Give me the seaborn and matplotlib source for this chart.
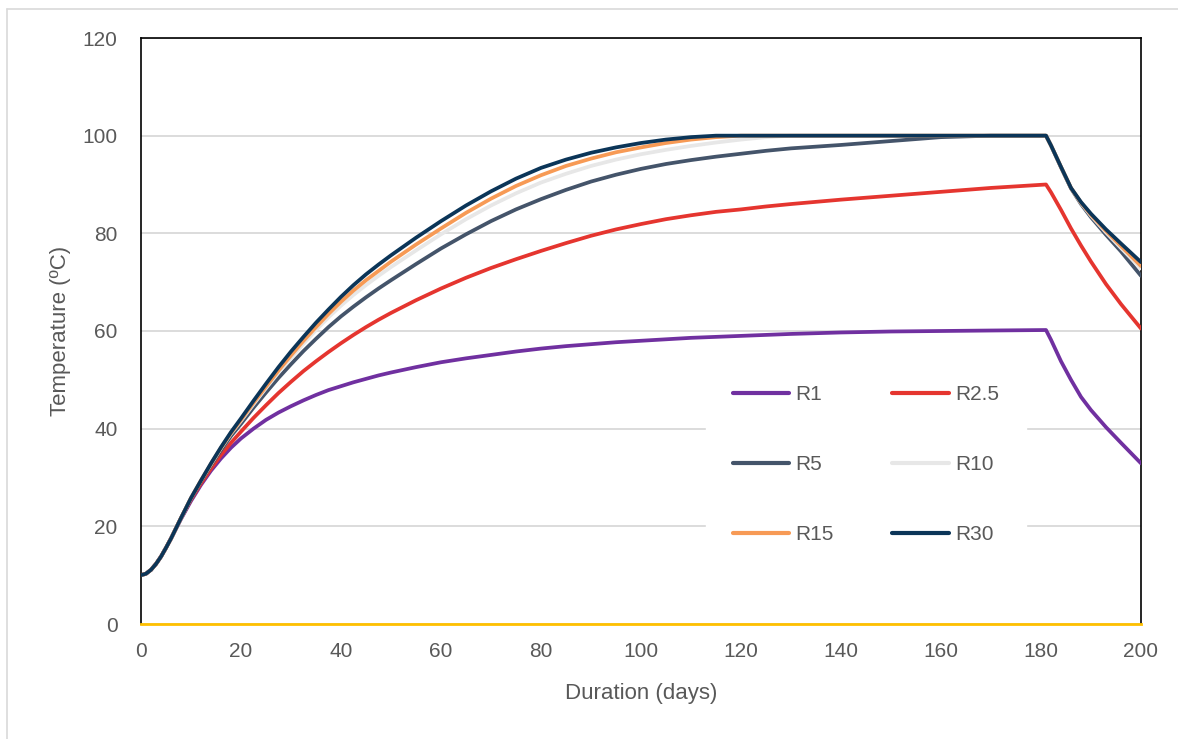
import matplotlib
matplotlib.use("Agg")
import matplotlib.pyplot as plt
import matplotlib.lines as mlines
import seaborn as sns
import pandas as pd

# read-off points (Excel series were daily)
days = [0, 1, 2, 3, 4, 5, 6, 7, 8,
        10, 12, 14, 16, 18, 20,
        22.5, 25, 27.5, 30, 32.5, 35, 37.5, 40, 42.5, 45, 47.5, 50,
        55, 60, 65, 70, 75, 80, 85, 90, 95, 100, 105, 110, 115, 120, 125, 130,
        140, 150, 160, 170, 181,
        182, 184, 186, 188, 190, 193, 196, 200]

start = [10, 10.3, 11.1, 12.3, 13.8, 15.6, 17.5, 19.6, 21.7]

r1 = [10, 10.3, 11.1, 12.3, 13.8, 15.6, 17.5, 19.5, 21.5,
      25.2, 28.5, 31.4, 33.9, 36.1, 38,
      40, 41.8, 43.3, 44.6, 45.8, 46.9, 47.9, 48.7, 49.5, 50.2, 50.9, 51.5,
      52.6, 53.6, 54.4, 55.1, 55.8, 56.4, 56.9, 57.3, 57.7, 58, 58.3, 58.6, 58.8, 59, 59.2, 59.4,
      59.7, 59.9, 60, 60.1, 60.2,
      58.2, 53.8, 50, 46.5, 43.8, 40.3, 37.1, 32.9]
r2_5 = start + [
    25.5, 28.8, 31.8, 34.6, 37.1, 39.4,
    42.2, 44.8, 47.3, 49.6, 51.8, 53.8, 55.7, 57.5, 59.2, 60.8, 62.3, 63.7,
    66.3, 68.7, 70.9, 72.9, 74.7, 76.4, 78, 79.5, 80.8, 81.9, 82.9, 83.7, 84.4, 84.9, 85.5, 86,
    86.9, 87.7, 88.5, 89.3, 90,
    88.4, 84.8, 81, 77.5, 74.2, 69.6, 65.5, 60.5]
r5 = start + [
    25.7, 29.2, 32.5, 35.6, 38.5, 41,
    44.3, 47.4, 50.4, 53.2, 55.9, 58.4, 60.8, 63, 65, 66.9, 68.7, 70.4,
    73.7, 76.9, 79.8, 82.5, 84.9, 87, 88.9, 90.6, 92, 93.2, 94.2, 95, 95.7, 96.3, 96.9, 97.4,
    98.1, 98.9, 99.7, 100, 100,
    98, 93.5, 89.2, 86, 83.3, 79.7, 76.3, 71.3]
r10 = start + [
    25.8, 29.4, 32.7, 36, 39, 41.6,
    45, 48.3, 51.5, 54.5, 57.4, 60.2, 62.8, 65.2, 67.4, 69.4, 71.3, 73.1,
    76.5, 79.8, 82.9, 85.7, 88.2, 90.4, 92.2, 93.8, 95.1, 96.2, 97.1, 97.9, 98.6, 99.2, 99.7, 100,
    100, 100, 100, 100, 100,
    98, 93.6, 89.3, 86.2, 83.6, 80.2, 77, 72.8]
r15 = start + [
    25.8, 29.4, 32.8, 36.1, 39.1, 41.8,
    45.3, 48.6, 51.9, 55, 58, 60.8, 63.5, 66, 68.3, 70.4, 72.3, 74.2,
    77.7, 81, 84.2, 87.1, 89.7, 91.9, 93.8, 95.3, 96.6, 97.6, 98.5, 99.2, 99.7, 100, 100, 100,
    100, 100, 100, 100, 100,
    98, 93.6, 89.3, 86.3, 83.8, 80.5, 77.4, 73.3]
r30 = start + [
    25.8, 29.4, 32.9, 36.2, 39.3, 42.1,
    45.7, 49.2, 52.6, 55.8, 58.8, 61.7, 64.4, 67, 69.4, 71.6, 73.6, 75.5,
    79.1, 82.5, 85.7, 88.6, 91.2, 93.4, 95.1, 96.5, 97.6, 98.5, 99.2, 99.7, 100, 100, 100, 100,
    100, 100, 100, 100, 100,
    98, 93.6, 89.3, 86.4, 84, 80.8, 77.9, 74.1]

series_names = ["R1", "R2.5", "R5", "R10", "R15", "R30"]
colors = {"R1": "#7030A0", "R2.5": "#E5352F", "R5": "#44546A",
          "R10": "#E7E7E7", "R15": "#F79A55", "R30": "#0B3558"}

frames = []
for name, vals in zip(series_names, [r1, r2_5, r5, r10, r15, r30]):
    frames.append(pd.DataFrame({"Duration": days, "Temperature": vals, "Series": name}))
df = pd.concat(frames, ignore_index=True)

sns.set_style("white")
plt.rcParams["font.family"] = ["Liberation Sans", "DejaVu Sans"]
grey = "#595959"

fig = plt.figure(figsize=(11.78, 7.39), dpi=100)
ax = fig.add_axes([141 / 1178, 1 - 624 / 739, 1000 / 1178, 586 / 739])

sns.lineplot(data=df, x="Duration", y="Temperature", hue="Series", hue_order=series_names,
             palette=colors, linewidth=2.7, ax=ax, legend=False, zorder=3)

ax.set_xlim(0, 200)
ax.set_ylim(0, 120)
ax.set_xticks(range(0, 201, 20))
ax.set_yticks(range(0, 121, 20))
ax.yaxis.grid(True, color="#D9D9D9", linewidth=1.3, zorder=0)
ax.xaxis.grid(False)
ax.tick_params(axis="both", length=0, labelsize=15, labelcolor=grey)
ax.tick_params(axis="y", pad=17)
ax.tick_params(axis="x", pad=13)
ax.set_xlabel("Duration (days)", fontsize=16, color=grey, labelpad=16)
ax.set_ylabel("Temperature (ºC)", fontsize=16, color=grey, labelpad=8)

for side in ["left", "top", "right"]:
    ax.spines[side].set_color("black")
    ax.spines[side].set_linewidth(1.2)
ax.spines["bottom"].set_color("#FFC000")
ax.spines["bottom"].set_linewidth(2)

# legend: two columns, row-wise order like Excel
order = ["R1", "R5", "R15", "R2.5", "R10", "R30"]
handles = [mlines.Line2D([], [], color=colors[n], linewidth=3, solid_capstyle="round") for n in order]
leg = ax.legend(handles, order, ncol=2, loc="center", bbox_to_anchor=(0.725, 0.272),
                fontsize=15, frameon=True, facecolor="white", edgecolor="white", framealpha=1,
                labelspacing=2.45, handlelength=2.7, handletextpad=0.3, columnspacing=2.8,
                borderpad=1.3, fancybox=False)
for t in leg.get_texts():
    t.set_color(grey)
leg.set_zorder(2)

# chart area border (left/top visible in crop)
fig.add_artist(mlines.Line2D([7 / 1178, 7 / 1178], [0, 1 - 9 / 739], color="#D9D9D9", linewidth=1.2))
fig.add_artist(mlines.Line2D([7 / 1178, 1], [1 - 9 / 739, 1 - 9 / 739], color="#D9D9D9", linewidth=1.2))

fig.savefig("out.png", dpi=100)
